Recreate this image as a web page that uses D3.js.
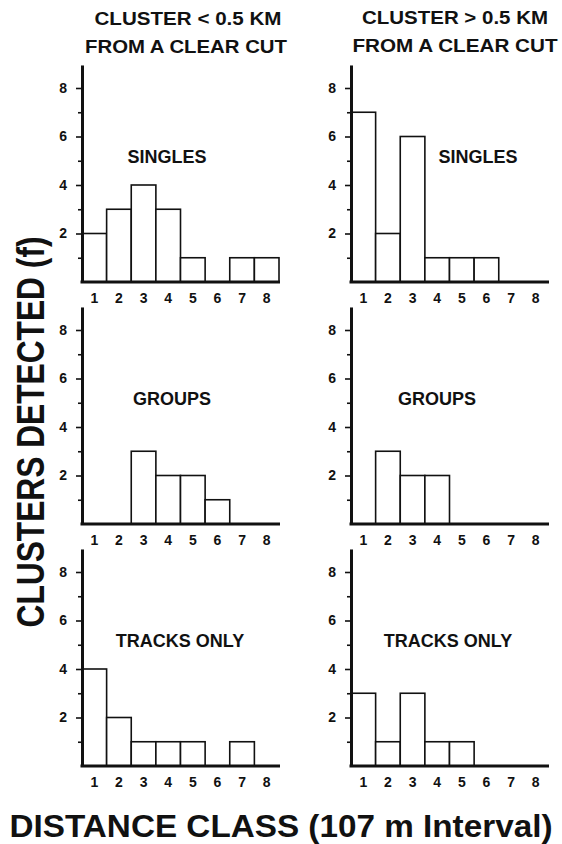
<!DOCTYPE html>
<html>
<head>
<meta charset="utf-8">
<script src="https://cdn.jsdelivr.net/npm/d3@7/dist/d3.min.js"></script>
<style>
  html, body { margin: 0; padding: 0; background: #fff; }
  svg { display: block; }
  text { font-family: "Liberation Sans", Arial, Helvetica, sans-serif; font-weight: bold; fill: #111; }
</style>
</head>
<body>
<svg id="chart" width="562" height="844"></svg>
<script>
// ---- data ----
const distanceClasses = [1, 2, 3, 4, 5, 6, 7, 8];
const yTickValues = [1, 2, 3, 4, 5, 6, 7, 8];
const yTickLabels = [2, 4, 6, 8];
const columnTitles = [
  ["CLUSTER < 0.5 KM", "FROM A CLEAR CUT"],
  ["CLUSTER > 0.5 KM", "FROM A CLEAR CUT"]
];
const rowLabels = ["SINGLES", "GROUPS", "TRACKS ONLY"];
const singlesNear = [2, 3, 4, 3, 1, 0, 1, 1];
const singlesFar  = [7, 2, 6, 1, 1, 1, 0, 0];
const groupsNear  = [0, 0, 3, 2, 2, 1, 0, 0];
const groupsFar   = [0, 3, 2, 2, 0, 0, 0, 0];
const tracksNear  = [4, 2, 1, 1, 1, 0, 1, 0];
const tracksFar   = [3, 1, 3, 1, 1, 0, 0, 0];
const yAxisTitle = "CLUSTERS DETECTED (f)";
const xAxisTitle = "DISTANCE CLASS (107 m Interval)";

// ---- layout ----
const svg = d3.select("#chart");
const colX0 = [82, 351];
const rowBase = [282, 524, 766];
const unit = 24.25;
const plotW = 197;
const labelPos = [
  [{dx: 85, y: 163}, {dx: 127, y: 163}],
  [{dx: 90, y: 405}, {dx: 86, y: 405}],
  [{dx: 98, y: 647}, {dx: 97, y: 647}]
];
const panels = [
  [singlesNear, singlesFar],
  [groupsNear, groupsFar],
  [tracksNear, tracksFar]
];

// column titles
const titleCfg = [
  [{x: 188, y: 25, w: 187}, {x: 186, y: 53, w: 202}],
  [{x: 455, y: 24, w: 186}, {x: 455, y: 52, w: 205}]
];
columnTitles.forEach((lines, c) => {
  lines.forEach((t, i) => {
    const cfg = titleCfg[c][i];
    svg.append("text")
      .attr("x", cfg.x).attr("y", cfg.y)
      .attr("text-anchor", "middle")
      .attr("font-size", 19)
      .attr("textLength", cfg.w)
      .attr("lengthAdjust", "spacingAndGlyphs")
      .text(t);
  });
});

panels.forEach((row, r) => {
  row.forEach((vals, c) => {
    const x0 = colX0[c];
    const base = rowBase[r];
    const x = d3.scaleBand().domain(distanceClasses).range([x0, x0 + plotW]).paddingInner(0).paddingOuter(0);
    const y = d3.scaleLinear().domain([0, 8.95]).range([base, base - 8.95 * unit]);
    const g = svg.append("g");

    // bars
    g.selectAll("rect.bar")
      .data(distanceClasses.map((d, i) => ({cls: d, v: vals[i]})).filter(d => d.v > 0))
      .join("rect")
      .attr("class", "bar")
      .attr("x", d => x(d.cls))
      .attr("y", d => y(d.v))
      .attr("width", x.bandwidth())
      .attr("height", d => y(0) - y(d.v))
      .attr("fill", "#fff")
      .attr("stroke", "#111")
      .attr("stroke-width", 1.6);

    // y axis
    const yAxis = d3.axisLeft(y)
      .tickValues(yTickValues)
      .tickSize(6)
      .tickSizeOuter(0)
      .tickPadding(9)
      .tickFormat(d => yTickLabels.includes(d) ? d : "");
    const ya = g.append("g").attr("transform", `translate(${x0},0)`).call(yAxis);
    ya.select(".domain").attr("stroke", "#111").attr("stroke-width", 3);
    ya.selectAll(".tick line").attr("stroke", "#111").attr("stroke-width", 1.6)
      .attr("x2", d => yTickLabels.includes(d) ? -6 : -4);
    ya.selectAll(".tick text")
      .attr("font-size", 14).attr("font-weight", "bold")
      .attr("font-family", "Liberation Sans, Arial, sans-serif").attr("fill", "#111");

    // x axis
    const xAxis = d3.axisBottom(x).tickSize(0).tickPadding(11);
    const xa = g.append("g").attr("transform", `translate(0,${base})`).call(xAxis);
    xa.select(".domain").remove();
    xa.selectAll(".tick text")
      .attr("font-size", 14).attr("font-weight", "bold")
      .attr("font-family", "Liberation Sans, Arial, sans-serif").attr("fill", "#111");
    g.append("line")
      .attr("x1", x0 - 1.5).attr("x2", x0 + plotW + 1)
      .attr("y1", y(0)).attr("y2", y(0))
      .attr("stroke", "#111").attr("stroke-width", 3);

    // panel label
    const lp = labelPos[r][c];
    g.append("text")
      .attr("x", x0 + lp.dx).attr("y", lp.y)
      .attr("text-anchor", "middle")
      .attr("font-size", 18)
      .text(rowLabels[r]);
  });
});

// y axis title
svg.append("text")
  .attr("transform", "translate(44,432) rotate(-90)")
  .attr("text-anchor", "middle")
  .attr("font-size", 38)
  .attr("textLength", 391)
  .attr("lengthAdjust", "spacingAndGlyphs")
  .text(yAxisTitle);

// x axis title
svg.append("text")
  .attr("x", 281).attr("y", 837)
  .attr("text-anchor", "middle")
  .attr("font-size", 31)
  .attr("textLength", 543)
  .attr("lengthAdjust", "spacingAndGlyphs")
  .text(xAxisTitle);
</script>
</body>
</html>
